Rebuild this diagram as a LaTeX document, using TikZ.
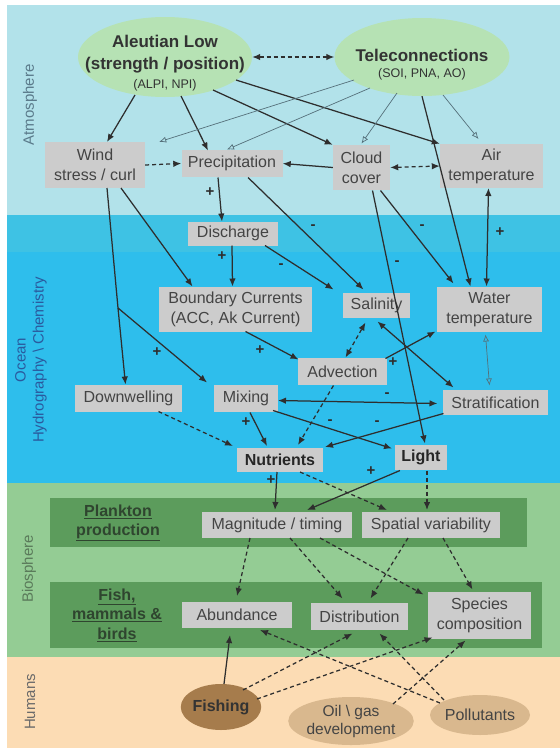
\documentclass[tikz,border=0pt]{standalone}
\usepackage{fontspec}
\setmainfont{Liberation Sans}
\usetikzlibrary{arrows.meta,calc,shapes.geometric}
\definecolor{atm}{HTML}{B2E2EA}
\definecolor{oceantop}{HTML}{3EC2E4}
\definecolor{ocean}{HTML}{2EBEEC}
\definecolor{bio}{HTML}{94CC94}
\definecolor{hum}{HTML}{FCDCB4}
\definecolor{darkband}{HTML}{5C9C5C}
\definecolor{boxgray}{HTML}{CCCCCC}
\definecolor{ellgreen}{HTML}{B6E2B4}
\definecolor{fishc}{HTML}{A67C4C}
\definecolor{tanc}{HTML}{D9B88E}
\definecolor{linec}{HTML}{2E2E2E}
\definecolor{thinc}{HTML}{55707A}
\definecolor{txt}{HTML}{444444}
\definecolor{atmlab}{HTML}{5A7A8A}
\definecolor{oclab}{HTML}{2A5A9E}
\definecolor{biolab}{HTML}{5A7A5A}
\definecolor{humlab}{HTML}{6A6A6A}
\definecolor{bandtxt}{HTML}{2F452F}
\begin{document}
\begin{tikzpicture}[x=1pt,y=-1pt,
  >={Latex[length=8pt,width=6.5pt]},
  box/.style={rectangle,fill=boxgray,draw=none,inner sep=0pt,align=center,text=txt,font=\fontsize{16}{20}\selectfont},
  bbox/.style={box,text=black!85,font=\fontsize{16}{20}\selectfont\bfseries},
  ell/.style={ellipse,fill=ellgreen,draw=none,inner sep=0pt},
  etxt/.style={align=center,inner sep=0pt,text=black!80,font=\fontsize{17}{22}\selectfont\bfseries},
  sol/.style={draw=linec,line width=1.25pt},
  dsh/.style={draw=linec,line width=1.25pt,dash pattern=on 4pt off 3pt},
  thn/.style={draw=thinc,line width=0.7pt},
  sgn/.style={inner sep=0pt,text=linec,font=\fontsize{15}{15}\selectfont\bfseries},
  side/.style={rotate=90,align=center,inner sep=0pt,font=\fontsize{15}{18}\selectfont},
  bandlab/.style={align=center,inner sep=0pt,text=bandtxt,font=\fontsize{16}{19.5}\selectfont\bfseries}
]
\useasboundingbox (0,0) rectangle (560,748);
\fill[white] (0,0) rectangle (560,748);
% bands
\fill[atm] (7,5) rectangle (560,215);
\fill[oceantop] (7,215) rectangle (560,252);
\fill[ocean] (7,252) rectangle (560,483);
\fill[bio] (7,483) rectangle (560,657);
\fill[hum] (7,657) rectangle (560,748);
\fill[darkband] (50,498) rectangle (527,547);
\fill[darkband] (50,582) rectangle (542,648);
% side labels
\node[side,text=atmlab] (latm) at (30,105) {Atmosphere};
\node[side,text=oclab] (locean) at (31,360) {Ocean\\Hydrography \textbackslash{} Chemistry};
\node[side,text=biolab] (lbio) at (29,569) {Biosphere};
\node[side,text=humlab] (lhum) at (30,702) {Humans};
\node[bandlab] (lplank) at (118,523) {\underline{Plankton}\\\underline{production}};
\node[bandlab] (lfish) at (117,615) {\underline{Fish,}\\\underline{mammals \&}\\\underline{birds}};
% ellipses
\node[ell,minimum width=174pt,minimum height=80pt] (aleut) at (165,57) {};
\node[etxt] (aleuttxt) at (165,63) {Aleutian Low\\(strength / position)\\[-3pt]{\fontsize{12.5}{14}\selectfont\mdseries (ALPI, NPI)}};
\node[ell,minimum width=175pt,minimum height=78pt] (tele) at (422,57) {};
\node[etxt] (teletxt) at (422,65) {Teleconnections\\[-6pt]{\fontsize{12.5}{14}\selectfont\mdseries (SOI, PNA, AO)}};
\node[ellipse,fill=fishc,inner sep=0pt,minimum width=78pt,minimum height=46pt,text=black!80,font=\fontsize{16}{18}\selectfont\bfseries] (fishing) at (221,707) {Fishing};
\node[ellipse,fill=tanc,inner sep=0pt,minimum width=117pt,minimum height=48pt,align=center,text=txt,font=\fontsize{15.5}{18}\selectfont] (oil) at (351,721) {Oil \textbackslash{} gas\\development};
\node[ellipse,fill=tanc,inner sep=0pt,minimum width=100pt,minimum height=40pt,text=txt,font=\fontsize{16}{18}\selectfont] (poll) at (480,715) {Pollutants};
% boxes
\node[box,minimum width=100pt,minimum height=46pt] (wind) at (95,165) {Wind\\stress / curl};
\node[box,minimum width=101pt,minimum height=27pt] (precip) at (232,163.5) {Precipitation};
\node[box,minimum width=57pt,minimum height=45pt] (cloud) at (361.5,167.5) {Cloud\\cover};
\node[box,minimum width=103pt,minimum height=44pt] (air) at (491.5,166) {Air\\temperature};
\node[box,minimum width=90pt,minimum height=24pt] (disch) at (233,233.5) {Discharge};
\node[box,minimum width=153pt,minimum height=45pt] (bound) at (235.5,309.5) {Boundary Currents\\(ACC, Ak Current)};
\node[box,minimum width=67pt,minimum height=25pt] (salin) at (376.5,305.5) {Salinity};
\node[box,minimum width=105pt,minimum height=45pt] (water) at (489.5,309.5) {Water\\temperature};
\node[box,minimum width=89pt,minimum height=27pt] (advec) at (342.5,371.5) {Advection};
\node[box,minimum width=107pt,minimum height=27pt] (down) at (128.5,398.5) {Downwelling};
\node[box,minimum width=64pt,minimum height=27pt] (mix) at (246,398.5) {Mixing};
\node[box,minimum width=105pt,minimum height=25pt] (strat) at (495.5,402.5) {Stratification};
\node[bbox,minimum width=86pt,minimum height=24pt] (nutr) at (280,460) {Nutrients};
\node[bbox,minimum width=52pt,minimum height=25pt] (light) at (421,457.5) {Light};
\node[box,minimum width=150pt,minimum height=26pt] (mag) at (277,525) {Magnitude / timing};
\node[box,minimum width=138pt,minimum height=26pt] (spat) at (431,525) {Spatial variability};
\node[box,minimum width=110pt,minimum height=26pt] (abund) at (237,615) {Abundance};
\node[box,minimum width=97pt,minimum height=27pt] (distr) at (359.5,616.5) {Distribution};
\node[box,minimum width=103pt,minimum height=47pt] (species) at (479.5,615.5) {Species\\composition};
% atmosphere connectors
\draw[dsh,<->] (aleut) -- (tele);
\draw[sol,->] ($(aleut)+(-30,38)$) -- ($(wind)+(12,-23)$);
\draw[sol,->] ($(aleut)+(16,39)$) -- ($(precip)+(-24,-13)$);
\draw[sol,->] ($(aleut)+(48,33)$) -- (cloud.north west);
\draw[sol,->] ($(aleut)+(71,23)$) -- (air.north west);
\draw[thn,-{Latex[open,length=7pt,width=6pt]}] ($(tele)+(-68,23)$) -- ($(wind.north east)+(14,0)$);
\draw[thn,-{Latex[open,length=7pt,width=6pt]}] ($(tele)+(-52,31)$) -- ($(precip)+(-5,-14)$);
\draw[thn,-{Latex[open,length=7pt,width=6pt]}] ($(tele)+(-25,36)$) -- ($(cloud)+(0,-24)$);
\draw[thn,-{Latex[open,length=7pt,width=6pt]}] ($(tele)+(21,38)$) -- ($(air)+(-13,-27)$);
\draw[sol,->] (tele.south) -- ($(water)+(-19,-23)$);
\draw[dsh,->] (wind.east) -- (precip.west);
\draw[sol,->] (cloud.west) -- (precip.east);
\draw[dsh,<->] (cloud.east) -- (air.west);
\draw[sol,->] ($(precip)+(-14,14)$) -- ($(disch)+(-11,-12)$);
\draw[sol,->] ($(precip)+(16,14)$) -- ($(salin)+(-13,-16)$);
\draw[sol,->] ($(cloud)+(11,23)$) -- ($(light)+(4,-14)$);
\draw[sol,->] ($(cloud)+(19,23)$) -- ($(water)+(-36,-26)$);
\draw[sol,<->] ($(air)+(-3,22)$) -- ($(water)+(-3,-23)$);
% ocean connectors
\coordinate (br) at (118,308);
\draw[sol] ($(wind)+(12,23)$) -- (br);
\draw[sol,->] (br) -- ($(down)+(-3,-14)$);
\draw[sol,->] (br) -- ($(mix)+(-39,-16)$);
\draw[sol,->] ($(wind)+(26,23)$) -- ($(bound)+(-43,-23)$);
\draw[sol,->] ($(disch)+(-1,12)$) -- ($(bound)+(-3,-23)$);
\draw[sol,->] ($(disch)+(32,12)$) -- ($(salin)+(-43,-16)$);
\draw[sol,->] ($(bound)+(10,22)$) -- ($(advec)+(-44,-12)$);
\draw[dsh,<->] ($(advec)+(3,-14)$) -- ($(salin)+(-11,17)$);
\draw[sol,->] ($(advec)+(43,-13)$) -- ($(water)+(-54,22)$);
\draw[sol,<->] ($(salin)+(1,16)$) -- ($(strat)+(-42,-15)$);
\draw[thn,{Latex[open,length=7pt,width=6pt]}-{Latex[open,length=7pt,width=6pt]}] ($(water)+(-4,25)$) -- ($(strat)+(-6,-17)$);
\draw[sol,<->] ($(mix)+(32,2)$) -- ($(strat)+(-58,1)$);
\draw[sol,->] ($(mix)+(4,14)$) -- ($(nutr)+(-13,-14)$);
\draw[sol,->] ($(mix)+(27,12)$) -- ($(light)+(-29,-9)$);
\draw[dsh,->] ($(down)+(30,13)$) -- ($(nutr)+(-47,-14)$);
\draw[dsh,->] ($(advec)+(-9,14)$) -- ($(nutr)+(18,-15)$);
\draw[sol,->] ($(strat)+(-52,11)$) -- ($(nutr)+(45,-13)$);
% biosphere connectors
\draw[sol,->] ($(nutr)+(-3,12)$) -- ($(mag)+(-2,-15)$);
\draw[dsh,->] ($(nutr)+(20,12)$) -- ($(spat)+(-44,-15)$);
\draw[sol,->] ($(light)+(-21,13)$) -- ($(mag)+(30,-15)$);
\draw[dsh,->] ($(light)+(6,13)$) -- ($(spat)+(-4,-15)$);
\draw[dsh,->] ($(mag)+(-27,13)$) -- ($(abund)+(0,-19)$);
\draw[dsh,->] ($(mag)+(13,13)$) -- ($(distr)+(-17,-18)$);
\draw[dsh,->] ($(mag)+(43,13)$) -- ($(species)+(-56,-21)$);
\draw[dsh,->] ($(spat)+(-23,13)$) -- ($(distr)+(11,-18)$);
\draw[dsh,->] ($(spat)+(12,13)$) -- ($(species)+(-7,-26)$);
% human connectors
\draw[sol,->] ($(fishing)+(3,-23)$) -- ($(abund)+(-7,20)$);
\draw[dsh,->] ($(fishing)+(22,-17)$) -- ($(distr)+(-7,17)$);
\draw[dsh,->] ($(fishing)+(36,-8)$) -- ($(species)+(-47,22)$);
\draw[dsh,->] ($(poll)+(-40,-12)$) -- ($(abund)+(23,15)$);
\draw[dsh,->] ($(poll)+(-36,-15)$) -- ($(distr)+(20,17)$);
\draw[dsh,->] ($(oil)+(42,-17)$) -- ($(species)+(-14,25)$);
% signs
\node[sgn] (g1) at (210,192) {+};
\node[sgn] (g2) at (313,227) {-};
\node[sgn] (g3) at (397,263) {-};
\node[sgn] (g4) at (422,227) {-};
\node[sgn] (g5) at (500,232) {+};
\node[sgn] (g6) at (157,352) {+};
\node[sgn] (g7) at (222,256) {+};
\node[sgn] (g8) at (281,266) {-};
\node[sgn] (g9) at (260,350) {+};
\node[sgn] (g10) at (393,362) {+};
\node[sgn] (g11) at (387,395) {-};
\node[sgn] (g12) at (246,422) {+};
\node[sgn] (g13) at (330,422) {-};
\node[sgn] (g14) at (377,423) {-};
\node[sgn] (g15) at (271,480) {+};
\node[sgn] (g16) at (371,471) {+};
\end{tikzpicture}
\end{document}
